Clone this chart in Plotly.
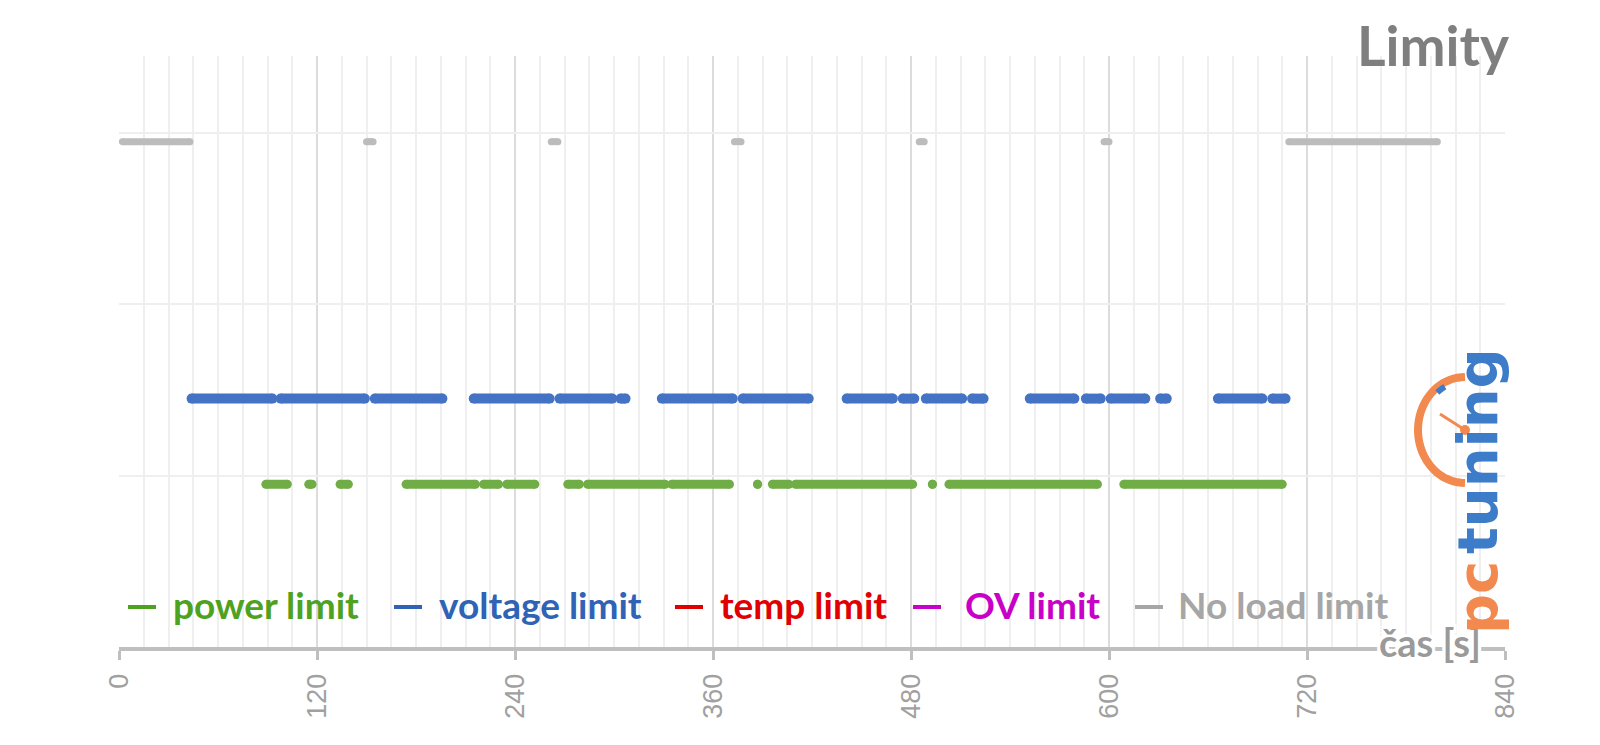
import numpy as np
import plotly.graph_objects as go

# ---------------- data ----------------
time_ticks = [0, 120, 240, 360, 480, 600, 720, 840]

# runs of consecutive samples where each limit was active (start s, end s)
power_start = [89, 115, 134, 174, 221, 235, 272, 284, 335, 387, 396, 410, 493, 503, 609]
power_end = [102, 117, 139, 216, 230, 252, 279, 331, 370, 387, 406, 481, 493, 593, 705]

voltage_start = [44, 98, 155, 215, 267, 304, 329, 378, 441, 475, 489, 517, 552, 586, 601, 631, 666, 699]
voltage_end = [93, 149, 196, 261, 299, 307, 372, 418, 469, 482, 511, 524, 579, 595, 622, 635, 693, 707]

temp_start = []
temp_end = []

ov_start = []
ov_end = []

noload_start = [2, 150, 262, 373, 485, 597, 709]
noload_end = [43, 154, 266, 377, 488, 600, 799]

series_names = ["power limit", "voltage limit", "temp limit", "OV limit", "No load limit"]
series_levels = [0.95, 1.45, 1.95, 2.45, 2.95]

# ---------------- style ----------------
marker_colors = ["#70ad47", "#4472c4", "#e00000", "#cc00cc", "#bcbcbc"]
legend_colors = ["#4ea21f", "#2f63b6", "#e00000", "#c800c8", "#a6a6a6"]
marker_sizes = [9, 10, 9, 9, 7]

L, R, T, B = 119, 95, 56, 98
W, H = 1600, 745
PW, PH = W - L - R, H - T - B


def px_x(x):
    return (x - L) / PW


def px_y(y):
    return (H - B - y) / PH


def runs_to_xy(starts, ends, level):
    xs, ys = [], []
    for s, e in zip(starts, ends):
        xs += [s, e, None]
        ys += [level, level, None]
    return xs, ys


fig = go.Figure()
all_runs = [(power_start, power_end), (voltage_start, voltage_end),
            (temp_start, temp_end), (ov_start, ov_end),
            (noload_start, noload_end)]
for name, (st, en), lvl, col, ms in zip(series_names, all_runs, series_levels,
                                         marker_colors, marker_sizes):
    xs, ys = runs_to_xy(st, en, lvl)
    fig.add_trace(go.Scatter(
        x=xs, y=ys, name=name, mode="lines+markers",
        line=dict(color=col, width=ms),
        marker=dict(color=col, size=ms),
        showlegend=False, hoverinfo="x+name",
    ))

annotations = []
shapes = []

# title
annotations.append(dict(
    text="<b>Limity</b>", xref="paper", yref="paper",
    x=px_x(1511), y=px_y(45), xanchor="right", yanchor="middle",
    showarrow=False, font=dict(family="Lato", size=55, color="#7f7f7f")))

# custom legend (dash + text)
dash_px = [128, 394, 675, 913, 1135]
text_px = [171, 437, 718, 963, 1176]
for name, col, dx, tx in zip(series_names, legend_colors, dash_px, text_px):
    shapes.append(dict(type="line", xref="paper", yref="paper",
                       x0=px_x(dx), x1=px_x(dx + 28), y0=px_y(607), y1=px_y(607),
                       line=dict(color=col, width=4)))
    annotations.append(dict(
        text="<b>%s</b>" % name, xref="paper", yref="paper",
        x=px_x(tx), y=px_y(604), xanchor="left", yanchor="middle",
        showarrow=False, font=dict(family="Lato", size=37, color=col)))

# axis title sitting on the axis line
annotations.append(dict(
    text="<b>čas [s]</b>", xref="paper", yref="paper",
    x=px_x(1430), y=px_y(642), xanchor="center", yanchor="middle",
    showarrow=False,
    font=dict(family="Lato", size=38, color="#9a9a9a",
              shadow="3px 0 0 white, -3px 0 0 white, 0 3px 0 white, 0 -3px 0 white, 3px 3px 0 white, -3px -3px 0 white, 3px -3px 0 white, -3px 3px 0 white")))

# logo
annotations.append(dict(
    text="<b>tuning</b>", xref="paper", yref="paper",
    x=px_x(1477), y=px_y(451), xanchor="center", yanchor="middle", textangle=-90,
    showarrow=False, font=dict(family="DejaVu Sans", size=56, color="#3d7cc9")))
annotations.append(dict(
    text="<b>pc</b>", xref="paper", yref="paper",
    x=px_x(1477), y=px_y(598), xanchor="center", yanchor="middle", textangle=-90,
    showarrow=False, font=dict(family="DejaVu Sans", size=56, color="#f28a4f")))

ax, ay = px_x(1465), px_y(430)


def arc_path(rx, ry, a0, a1, n=40):
    th = np.radians(np.linspace(a0, a1, n))
    pts = ["%.2f,%.2f" % (rx * np.cos(t), ry * np.sin(t)) for t in th]
    return "M " + " L ".join(pts)


common = dict(xref="paper", yref="paper", xsizemode="pixel", ysizemode="pixel",
              xanchor=ax, yanchor=ay)
shapes.append(dict(type="path", path=arc_path(47, 53, 90, 270), line=dict(color="#f28a4f", width=8), **common))
shapes.append(dict(type="path", path=arc_path(43, 49, 118, 130), line=dict(color="#3d7cc9", width=6), **common))
shapes.append(dict(type="path", path="M 0,0 L -25,16", line=dict(color="#f28a4f", width=3), **common))
shapes.append(dict(type="circle", x0=-5, x1=5, y0=-5, y1=5, fillcolor="#f28a4f",
                   line=dict(width=0), **common))

fig.update_layout(
    width=W, height=H,
    margin=dict(l=L, r=R, t=T, b=B, pad=0),
    paper_bgcolor="white", plot_bgcolor="white",
    showlegend=False,
    annotations=annotations, shapes=shapes,
    xaxis=dict(
        range=[0, 840], tickvals=time_ticks, ticktext=[str(v) for v in time_ticks],
        tickangle=-90, tickfont=dict(family="Liberation Sans", size=27, color="#a0a0a0"),
        ticklabelstandoff=3,
        showgrid=True, gridcolor="#dcdcdc", gridwidth=2,
        minor=dict(dtick=15, showgrid=True, gridcolor="#efefef", gridwidth=1.5),
        showline=True, linecolor="#bfbfbf", linewidth=4,
        ticks="outside", ticklen=9, tickwidth=3, tickcolor="#bfbfbf",
        zeroline=False, fixedrange=True,
    ),
    yaxis=dict(
        range=[0, 3.45], dtick=1, showticklabels=False,
        showgrid=True, gridcolor="#efefef", gridwidth=1.5,
        zeroline=False, showline=False, fixedrange=True,
    ),
)

fig.write_html("out.html")
